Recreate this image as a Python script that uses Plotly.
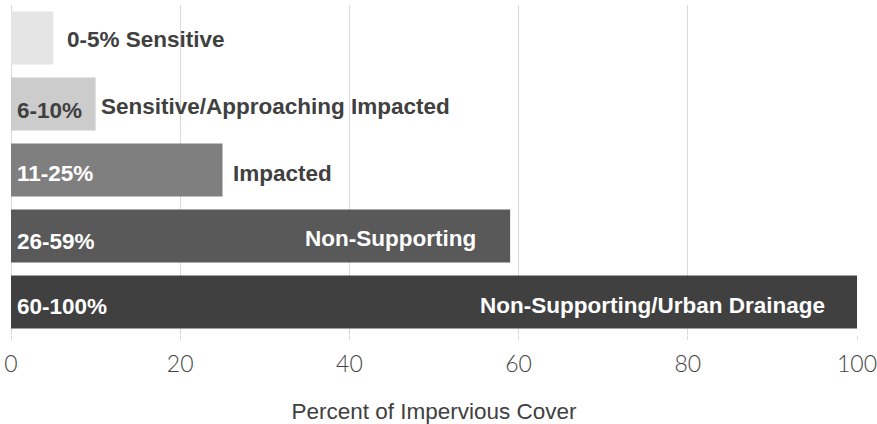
import plotly.graph_objects as go

categories = ["0-5%", "6-10%", "11-25%", "26-59%", "60-100%"]
values = [5, 10, 25, 59, 100]
names = ["Sensitive", "Sensitive/Approaching Impacted", "Impacted", "Non-Supporting",
         "Non-Supporting/Urban Drainage"]
colors = ["#e5e5e5", "#cccccc", "#7f7f7f", "#595959", "#404040"]

fig = go.Figure(go.Bar(
    x=values, y=categories, orientation="h",
    marker=dict(color=colors, line=dict(width=0)),
    hoverinfo="skip",
))

bold = "Liberation Sans, Arial, sans-serif"
FS = 22.5
ann = []
# name label placement: (xanchor, xshift, yshift, colour)
name_style = [
    ("left", 12, -1, "#404040"),
    ("left", 3, -2, "#404040"),
    ("left", 8, -3, "#404040"),
    ("right", -32, -2, "#ffffff"),
    ("right", -30, -3, "#ffffff"),
]
range_yshift = [0, -6, -3, -5, -4]
range_color = ["#404040", "#404040", "#ffffff", "#ffffff", "#ffffff"]
for i, (cat, v, nm) in enumerate(zip(categories, values, names)):
    xa, xs, ys, col = name_style[i]
    text = f"<b>{cat} {nm}</b>" if i == 0 else f"<b>{nm}</b>"
    ann.append(dict(x=v, y=cat, xref="x", yref="y", text=text, showarrow=False,
                    xanchor=xa, xshift=xs, yshift=ys,
                    font=dict(family=bold, size=FS, color=col)))
    if i > 0:
        ann.append(dict(x=0, y=cat, xref="x", yref="y", text=f"<b>{cat}</b>",
                        showarrow=False, xanchor="left", xshift=4, yshift=range_yshift[i],
                        font=dict(family=bold, size=FS, color=range_color[i])))

fig.update_layout(
    width=877, height=424,
    margin=dict(l=11, r=20, t=5, b=89),
    plot_bgcolor="white", paper_bgcolor="white",
    bargap=0.2,
    showlegend=False,
    annotations=ann,
    xaxis=dict(range=[0, 100], tickvals=[0, 20, 40, 60, 80, 100],
               showgrid=True, gridcolor="#d9d9d9", gridwidth=1,
               zeroline=True, zerolinecolor="#d9d9d9", zerolinewidth=1,
               ticks="outside", ticklen=4, tickcolor="#d9d9d9",
               ticklabelstandoff=4, ticklabeloverflow="allow",
               tickfont=dict(family="Lato, Open Sans, sans-serif", size=23,
                             color="#444444", weight=300),
               title=dict(text="Percent of Impervious Cover", standoff=28,
                          font=dict(family="Liberation Sans, Arial, sans-serif",
                                    size=22.5, color="#404040")),
               showline=False, fixedrange=True, automargin=False),
    yaxis=dict(autorange="reversed", showticklabels=False, showgrid=False,
               zeroline=False, showline=False, fixedrange=True),
)

fig.write_html("out.html", config={"displayModeBar": False},
               post_script="document.body.style.margin='0';")
